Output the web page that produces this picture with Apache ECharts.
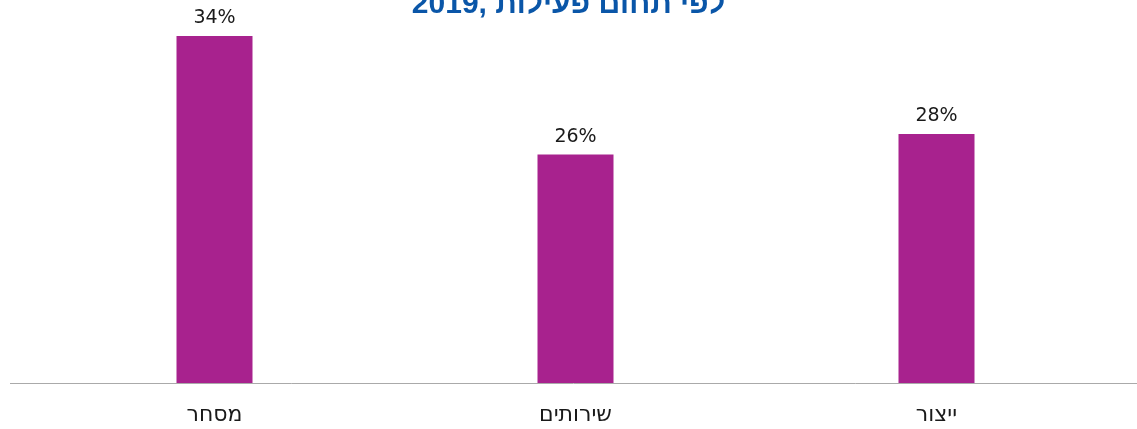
<!DOCTYPE html>
<html><head><meta charset="utf-8">
<script src="https://cdn.jsdelivr.net/npm/echarts@6/dist/echarts.min.js"></script>
<style>html,body{margin:0;padding:0;background:#fff}#c{width:1137px;height:429px}</style>
</head><body><div id="c"></div>
<script>
const categories = ['מסחר', 'שירותים', 'ייצור'];
const values = [34, 22.4, 24.4];
const valueLabels = ['34%', '26%', '28%'];
const titleText = 'לפי תחום פעילות ,2019';

const chart = echarts.init(document.getElementById('c'));
chart.setOption({
  animation: false,
  title: {
    text: titleText, left: 'center', top: -15,
    textStyle: { color: '#0a56a8', fontSize: 30, fontWeight: 'bold', fontFamily: 'Liberation Sans' }
  },
  grid: { left: 34, right: 20, top: 36, bottom: 46 },
  xAxis: {
    type: 'category', data: categories,
    axisLine: { show: false }, axisTick: { show: false },
    axisLabel: { fontSize: 22, color: '#1a1a1a', margin: 21, fontFamily: 'DejaVu Sans' }
  },
  yAxis: { type: 'value', min: 0, max: 34, show: false, splitLine: { show: false } },
  graphic: [{
    type: 'line', shape: { x1: 10, y1: 383.5, x2: 1137, y2: 383.5 },
    style: { stroke: '#aaaaaa', lineWidth: 1 }, z: 10
  }],
  series: [{
    type: 'bar', data: values, barWidth: 76,
    itemStyle: { color: '#a8228e' },
    label: {
      show: true, position: 'top', distance: 8,
      formatter: p => valueLabels[p.dataIndex],
      fontSize: 19, color: '#1a1a1a', fontFamily: 'DejaVu Sans'
    }
  }]
});
</script></body></html>
